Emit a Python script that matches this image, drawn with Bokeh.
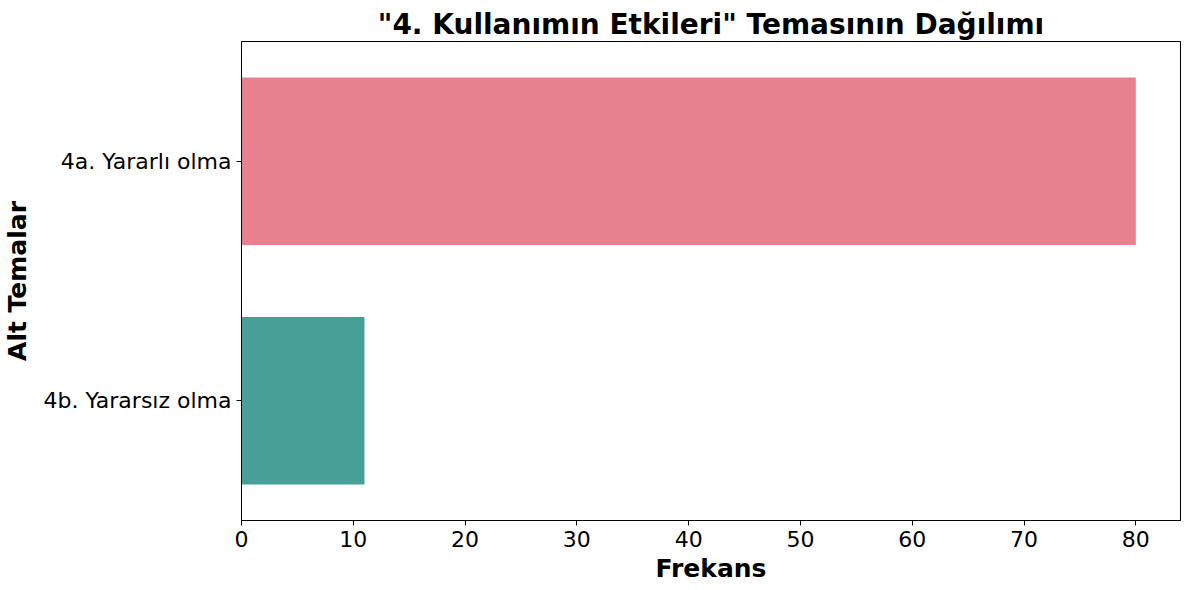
from bokeh.plotting import figure
from bokeh.models import FactorRange, Range1d, SingleIntervalTicker, ColumnDataSource
from bokeh.embed import file_html
from bokeh.resources import INLINE

categories = ["4a. Yararlı olma", "4b. Yararsız olma"]
frequencies = [80, 11]
colors = ["#E7808F", "#479F98"]

src = ColumnDataSource(dict(cat=categories, val=frequencies, color=colors))

p = figure(
    width=1184, height=585,
    y_range=FactorRange(factors=list(reversed(categories)), range_padding=0),
    x_range=Range1d(0, 84),
    output_backend="svg", toolbar_location=None,
    title='"4. Kullanımın Etkileri" Temasının Dağılımı',
    min_border_left=240, min_border_right=4, min_border_top=41, min_border_bottom=64,
)

p.hbar(y="cat", right="val", left=0, height=0.7, color="color", source=src, line_color=None)

p.title.align = "center"
p.title.text_font = "DejaVu Sans"
p.title.text_font_size = "28px"
p.title.text_font_style = "bold"
p.title.text_color = "black"
p.title.standoff = 2

p.xgrid.visible = False
p.ygrid.visible = False
p.outline_line_color = "black"
p.outline_line_width = 1
p.background_fill_color = "white"
p.border_fill_color = "white"

p.xaxis.ticker = SingleIntervalTicker(interval=10)
p.xaxis.axis_label = "Frekans"
p.yaxis.axis_label = "Alt Temalar"
for ax in (p.xaxis, p.yaxis):
    ax.axis_label_text_font = "DejaVu Sans"
    ax.axis_label_text_font_size = "25px"
    ax.axis_label_text_font_style = "bold"
    ax.axis_label_text_color = "black"
    ax.major_label_text_font = "DejaVu Sans"
    ax.major_label_text_font_size = "22px"
    ax.major_label_text_color = "black"
    ax.axis_line_color = "black"
    ax.major_tick_line_color = "black"
    ax.major_tick_out = 5
    ax.major_tick_in = 0
    ax.minor_tick_line_color = None
    ax.major_label_standoff = 5
p.xaxis.axis_label_standoff = 4
p.yaxis.axis_label_standoff = 8

open("out.html", "w").write(file_html(p, INLINE))
